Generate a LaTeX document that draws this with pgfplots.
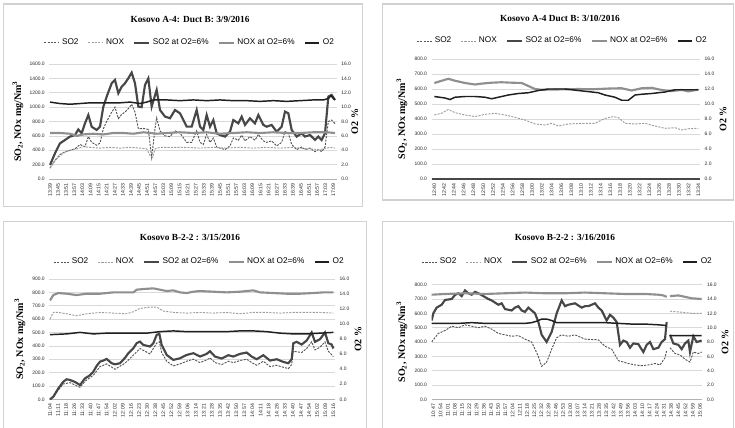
\documentclass[border=0pt]{standalone}
\usepackage{fontspec}
\setmainfont{Liberation Serif}
\setsansfont{Liberation Sans}
\usepackage{pgfplots}
\pgfplotsset{compat=1.18}
\definecolor{cSOd}{gray}{0.33}
\definecolor{cNOd}{gray}{0.62}
\definecolor{cSOt}{gray}{0.28}
\definecolor{cNOt}{gray}{0.56}
\definecolor{cOx}{gray}{0.12}
\definecolor{frm}{gray}{0.82}
\pgfplotsset{
  sod/.style={cSOd, line width=0.7pt, dash pattern=on 1.6pt off 0.9pt},
  nod/.style={cNOd, line width=0.7pt, dash pattern=on 1.6pt off 0.9pt},
  sot/.style={cSOt, line width=1.6pt},
  not/.style={cNOt, line width=1.6pt},
  oxy/.style={cOx, line width=1.1pt},
  common/.style={scale only axis, ymin=0, unbounded coords=jump,
    y axis line style={draw=none}, xtick style={draw=none}, ytick style={draw=none},
    major tick length=0pt,
    yticklabel style={font=\sffamily\fontsize{3.7}{4}\selectfont, gray!30!black},
    y tick label style={/pgf/number format/.cd, fixed, fixed zerofill, precision=1, 1000 sep={}, assume math mode=true},
    ylabel style={font=\bfseries\fontsize{7.5}{8}\selectfont},
  },
  leftax/.style={common, axis x line*=bottom, axis y line*=left,
    x axis line style={gray!60, line width=0.5pt},
    ymajorgrids, grid style={gray!30, line width=0.4pt},
    xticklabel style={font=\sffamily\fontsize{3.9}{4}\selectfont, rotate=90, anchor=east, gray!30!black},
    legend style={draw=none, fill=none, font=\sffamily\fontsize{6.2}{7}\selectfont, anchor=center,
      /tikz/every even column/.append style={column sep=5pt}},
    legend columns=5,
    legend image code/.code={\draw[##1] (0pt,0pt) -- (11pt,0pt);},
  },
  rightax/.style={common, axis y line*=right, axis x line=none, ymax=16, ytick={0,2,...,16}},
}
\begin{document}
\begin{tikzpicture}
\path[use as bounding box] (0,0) rectangle (551.25pt,-321pt);
% panel frames
\draw[frm, line width=0.8pt] (2.5pt,-3pt) rectangle (272pt,-155pt);
\draw[frm, line width=0.8pt] (287pt,-3pt) rectangle (550pt,-150pt);
\draw[frm, line width=0.8pt] (2.5pt,-166pt) rectangle (275pt,-325pt);
\draw[frm, line width=0.8pt] (287pt,-166pt) rectangle (550pt,-325pt);
% titles
\node[font=\bfseries\fontsize{7}{8}\selectfont] at (142.5pt,-14.25pt) {Kosovo A-4: Duct B: 3/9/2016};
\node[font=\bfseries\fontsize{7}{8}\selectfont] at (420pt,-13.5pt) {Kosovo A-4 Duct B: 3/10/2016};
\node[font=\bfseries\fontsize{7}{8}\selectfont] at (142.5pt,-177.75pt) {Kosovo B-2-2 : 3/15/2016};
\node[font=\bfseries\fontsize{7}{8}\selectfont] at (423.75pt,-177.75pt) {Kosovo B-2-2 : 3/16/2016};

% ================= Panel 1 =================
\begin{axis}[leftax, at={(37pt,-48pt)}, anchor=north west, width=215.5pt, height=86.25pt,
  xmin=148, xmax=1010, ymax=1600, ytick={0,200,...,1600},
  xtick={150,174.29,...,1001},
  xticklabels={13:39,13:45,13:51,13:57,14:03,14:09,14:15,14:21,14:27,14:33,14:39,14:45,14:51,14:57,15:03,15:09,15:15,15:21,15:27,15:33,15:39,15:45,15:51,15:57,16:03,16:09,16:15,16:21,16:27,16:33,16:39,16:45,16:51,16:57,17:03,17:09},
  ylabel={SO\textsubscript{2}, NOx mg/Nm\textsuperscript{3}},
  ylabel style={at={(rel axis cs:0,0.5)}, anchor=center, yshift=23.5pt},
  legend style={at={(0.49,1.183)}}]
\addplot[sod] table {
150 150
165 260
180 340
195 380
210 400
225 420
240 480
255 450
265 590
275 510
290 470
300 500
310 700
320 800
335 930
345 1000
355 840
365 900
375 930
385 980
395 1040
405 930
415 700
425 700
435 700
445 690
455 300
465 700
470 850
480 670
495 600
510 590
525 670
540 640
560 510
575 510
590 670
600 510
610 480
620 620
630 510
640 570
650 445
660 430
675 410
690 460
700 570
715 540
725 610
735 530
750 590
765 540
775 620
790 530
800 510
815 530
830 460
845 510
855 660
865 640
875 480
890 410
905 445
915 410
930 430
945 380
955 410
965 380
975 445
985 800
995 820
1005 770
};
\addlegendentry{SO2}
\addplot[nod] table {
150 160
170 280
190 360
210 400
230 420
250 450
270 440
300 430
330 440
360 430
390 440
420 430
440 420
450 330
458 300
465 420
480 440
520 440
560 440
600 430
640 440
680 430
720 440
760 430
800 440
840 430
880 440
920 420
960 410
990 440
1005 430
};
\addlegendentry{NOX}
\addplot[sot] table {
150 195
165 357
180 496
195 543
210 590
225 612
235 690
245 636
255 775
265 890
275 728
290 682
300 728
310 1007
320 1146
335 1332
345 1378
355 1192
365 1285
375 1332
385 1401
395 1480
405 1332
415 1007
425 1000
435 1308
445 1400
455 1007
470 1239
480 960
495 868
510 845
525 960
540 914
560 728
575 728
590 960
600 728
610 682
620 890
630 728
640 820
650 636
660 612
675 590
690 659
700 820
715 775
725 868
735 752
750 845
765 775
775 890
790 752
800 728
815 752
830 659
845 728
855 937
865 914
875 682
890 590
905 636
915 590
930 612
945 543
955 590
965 543
975 636
985 1146
995 1169
1005 1100
};
\addlegendentry{SO2 at O2=6\%}
\addplot[not] table {
150 640
180 640
210 630
230 600
250 620
280 630
310 620
340 640
370 640
400 630
430 650
450 640
470 630
500 640
540 650
580 640
620 650
660 630
700 640
740 650
780 640
820 650
860 640
900 640
940 650
980 650
1005 640
};
\addlegendentry{NOX at O2=6\%}
\addlegendimage{oxy}
\addlegendentry{O2}
\end{axis}
\begin{axis}[rightax, at={(37pt,-48pt)}, anchor=north west, width=215.5pt, height=86.25pt,
  xmin=148, xmax=1010,
  ylabel={O2 \%}, ylabel style={at={(rel axis cs:1,0.5)}, anchor=center, yshift=-13.7pt}]
\addplot[oxy] table {
150 10.7
180 10.5
210 10.4
240 10.5
270 10.6
300 10.6
330 10.6
360 10.6
390 10.7
420 10.5
440 10.7
460 11.0
500 11.0
540 10.9
580 11.0
620 10.9
660 11.0
700 10.9
740 10.9
780 10.8
820 10.9
860 10.8
900 10.9
940 11.0
970 11.0
985 11.2
993 11.6
1000 11.2
1005 11.0
};
\end{axis}

% ================= Panel 2 =================
\begin{axis}[leftax, at={(323.75pt,-44.25pt)}, anchor=north west, width=201.25pt, height=90pt,
  xmin=200, xmax=1005, ymax=800, ytick={0,100,...,800},
  xtick={208,237.33,...,1001},
  xticklabels={12:40,12:42,12:44,12:46,12:48,12:50,12:52,12:54,12:56,12:58,13:00,13:02,13:04,13:06,13:08,13:10,13:12,13:14,13:16,13:18,13:20,13:22,13:24,13:26,13:28,13:30,13:32,13:34},
  ylabel={SO\textsubscript{2}, NOx mg/Nm\textsuperscript{3}},
  ylabel style={at={(rel axis cs:0,0.5)}, anchor=center, yshift=22.3pt},
  legend style={at={(0.489,1.15)}}]
\addplot[sod] table {
200 0
1005 0
};
\addlegendentry{SO2}
\addplot[nod] table {
208 427
230 438
250 464
270 442
300 427
330 416
360 431
390 438
420 427
450 411
480 393
510 367
540 360
560 371
580 353
610 367
650 371
690 371
720 404
745 416
760 410
780 371
810 367
840 371
870 353
900 338
930 342
950 327
970 335
1000 338
};
\addlegendentry{NOX}
\addplot[sot] table {
200 0
1005 0
};
\addlegendentry{SO2 at O2=6\%}
\addplot[not] table {
208 640
230 655
250 668
270 655
300 640
330 630
350 636
380 642
410 645
440 642
470 640
490 620
510 600
530 595
560 596
600 598
640 600
680 598
700 600
740 604
770 605
800 590
830 605
860 608
880 598
900 590
920 586
950 594
970 584
990 592
1000 595
};
\addlegendentry{NOX at O2=6\%}
\addlegendimage{oxy}
\addlegendentry{O2}
\end{axis}
\begin{axis}[rightax, at={(323.75pt,-44.25pt)}, anchor=north west, width=201.25pt, height=90pt,
  xmin=200, xmax=1005,
  ylabel={O2 \%}, ylabel style={at={(rel axis cs:1,0.5)}, anchor=center, yshift=-17.25pt}]
\addplot[oxy] table {
208 11.0
240 10.8
255 10.6
270 10.9
300 11.0
330 11.0
360 10.9
380 10.7
400 10.9
430 11.2
460 11.4
490 11.5
520 11.8
550 12.0
600 12.0
640 11.8
680 11.6
700 11.5
720 11.2
750 10.9
770 10.5
790 10.5
810 11.2
830 11.3
860 11.4
880 11.5
900 11.6
930 11.9
960 11.9
1000 11.9
};
\end{axis}

% ================= Panel 3 =================
\begin{axis}[leftax, at={(37pt,-209.25pt)}, anchor=north west, width=214.25pt, height=90.25pt,
  xmin=148, xmax=1005, ymax=900, ytick={0,100,...,900},
  xtick={150,174.29,...,1001},
  xticklabels={11:04,11:11,11:18,11:26,11:33,11:40,11:47,11:54,12:02,12:09,12:16,12:23,12:30,12:38,12:45,12:52,12:59,13:06,13:14,13:21,13:28,13:35,13:42,13:50,13:57,14:04,14:11,14:18,14:26,14:33,14:40,14:47,14:54,15:02,15:09,15:16},
  ylabel={SO\textsubscript{2}, NOx mg/Nm\textsuperscript{3}},
  ylabel style={at={(rel axis cs:0,0.5)}, anchor=center, yshift=22pt},
  legend style={at={(0.527,1.141)}}]
\addplot[sod] table {
150 0
160 15
175 70
190 115
210 125
240 90
255 135
280 180
300 245
320 265
345 225
375 270
400 330
420 380
450 340
470 420
478 430
485 350
500 285
520 250
540 265
560 285
580 300
600 275
620 295
630 310
645 275
665 260
685 285
700 275
720 290
740 300
755 275
770 255
790 285
810 245
830 255
850 240
865 230
875 260
880 360
905 350
920 380
935 430
945 370
960 390
975 430
985 360
1000 320
};
\addlegendentry{SO2}
\addplot[nod] table {
150 600
160 650
175 650
200 640
230 625
260 640
300 650
340 645
380 640
400 655
420 680
450 690
470 690
490 660
520 650
560 645
600 650
640 645
680 650
720 640
760 650
800 650
840 645
880 650
920 650
960 650
1000 645
};
\addlegendentry{NOX}
\addplot[sot] table {
150 0
160 20
175 82
190 132
200 150
210 145
225 130
240 107
255 157
270 180
280 207
290 250
300 282
310 290
320 302
335 270
345 262
360 270
375 310
385 345
400 382
410 420
420 432
430 407
450 395
460 420
470 482
478 490
485 407
500 332
520 295
540 307
560 332
580 345
600 320
620 340
630 360
645 320
665 305
685 330
700 320
720 340
740 350
755 320
770 300
790 330
810 290
830 300
850 280
865 270
875 300
880 420
890 430
905 410
920 440
935 500
945 430
960 450
975 500
985 420
995 410
1000 380
};
\addlegendentry{SO2 at O2=6\%}
\addplot[not] table {
150 740
160 780
175 795
200 790
230 780
260 790
300 790
340 800
380 800
400 800
410 820
430 825
460 830
480 820
500 810
520 815
540 800
560 795
580 805
600 810
640 805
680 800
720 805
760 815
780 800
820 795
860 790
900 790
940 795
970 800
1000 800
};
\addlegendentry{NOX at O2=6\%}
\addlegendimage{oxy}
\addlegendentry{O2}
\end{axis}
\begin{axis}[rightax, at={(37pt,-209.25pt)}, anchor=north west, width=214.25pt, height=90.25pt,
  xmin=148, xmax=1005,
  ylabel={O2 \%}, ylabel style={at={(rel axis cs:1,0.5)}, anchor=center, yshift=-17.25pt}]
\addplot[oxy] table {
150 8.6
200 8.7
240 8.9
280 8.7
320 8.8
360 8.8
400 8.8
440 8.8
480 9.0
520 9.1
560 9.0
600 9.0
640 9.0
680 9.0
720 9.1
760 9.1
800 9.0
840 8.8
880 8.7
920 8.7
960 8.8
1000 8.9
};
\end{axis}

% ================= Panel 4 =================
\begin{axis}[leftax, at={(323.75pt,-213.5pt)}, anchor=north west, width=203pt, height=86pt,
  xmin=200, xmax=1012, ymax=800, ytick={0,100,...,800},
  xtick={205,226.62,...,1007},
  xticklabels={10:47,10:54,11:01,11:08,11:15,11:22,11:29,11:36,11:43,11:50,11:57,12:04,12:11,12:18,12:25,12:32,12:39,12:46,12:53,13:00,13:07,13:14,13:21,13:28,13:35,13:42,13:49,13:56,14:03,14:10,14:17,14:24,14:31,14:38,14:45,14:52,14:59,15:06},
  ylabel={SO\textsubscript{2}, NOx mg/Nm\textsuperscript{3}},
  ylabel style={at={(rel axis cs:0,0.5)}, anchor=center, yshift=22.3pt},
  legend style={at={(0.504,1.197)}}]
\addplot[sod] table {
200 400
220 460
240 480
260 510
280 500
300 520
320 510
340 500
360 510
380 490
400 460
420 450
440 440
460 445
480 420
500 400
520 300
530 230
545 260
560 350
575 430
590 450
610 440
630 450
660 420
700 415
720 370
740 350
760 270
775 260
790 250
810 240
830 235
850 240
870 250
885 240
900 290
905 340
910 nan
915 360
930 320
945 310
960 280
975 260
985 330
1000 320
1010 330
};
\addlegendentry{SO2}
\addplot[nod] table {
915 615
940 610
960 605
980 600
1010 600
};
\addlegendentry{NOX}
\addplot[sot] table {
200 550
205 600
215 640
230 660
240 693
260 700
270 728
280 740
290 720
300 760
310 740
320 730
330 750
340 740
355 720
370 700
380 690
400 660
410 670
420 630
440 620
450 640
460 650
470 620
480 610
490 640
500 620
510 600
520 540
530 450
545 400
560 470
575 600
590 690
600 650
610 660
630 670
650 640
660 650
670 650
690 670
700 640
710 620
725 550
735 590
745 570
755 540
765 380
775 410
785 400
795 360
805 390
820 385
835 330
845 380
855 400
865 350
880 360
890 400
900 420
905 540
910 nan
915 450
925 390
940 380
950 350
960 390
970 410
975 330
985 440
995 400
1010 410
};
\addlegendentry{SO2 at O2=6\%}
\addplot[not] table {
200 730
240 735
300 740
360 735
420 740
480 745
540 740
600 740
660 745
720 740
780 735
840 735
880 730
895 725
905 715
910 nan
915 720
940 725
960 715
980 705
1010 700
};
\addlegendentry{NOX at O2=6\%}
\addlegendimage{oxy}
\addlegendentry{O2}
\end{axis}
\begin{axis}[rightax, at={(323.75pt,-213.5pt)}, anchor=north west, width=203pt, height=86pt,
  xmin=200, xmax=1012,
  ylabel={O2 \%}, ylabel style={at={(rel axis cs:1,0.5)}, anchor=center, yshift=-17pt}]
\addplot[oxy] table {
200 10.6
240 10.6
280 10.6
320 10.7
360 10.6
400 10.6
440 10.6
480 10.6
500 10.7
515 10.9
530 11.2
545 11.2
560 11.0
575 10.7
600 10.7
640 10.7
680 10.7
720 10.7
760 10.6
800 10.5
840 10.5
880 10.4
905 10.3
910 nan
915 8.9
940 8.9
960 8.9
980 8.9
1010 8.9
};
\end{axis}
\end{tikzpicture}
\end{document}
